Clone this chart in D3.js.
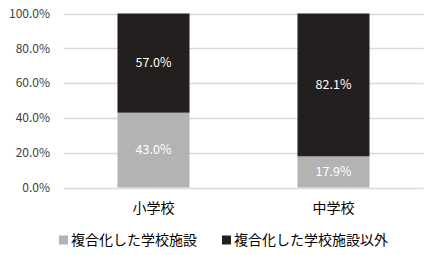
<!DOCTYPE html>
<html>
<head>
<meta charset="utf-8">
<script src="https://cdn.jsdelivr.net/npm/d3@7"></script>
<style>
  body { margin: 0; background: #fff; }
  text { font-family: "Noto Sans CJK JP", "Noto Sans", sans-serif; }
</style>
</head>
<body>
<svg width="430" height="255"></svg>
<script>
// chart data
const categories = ["小学校", "中学校"];
const combined = [43.0, 17.9];      // 複合化した学校施設
const notCombined = [57.0, 82.1];   // 複合化した学校施設以外
const seriesNames = ["複合化した学校施設", "複合化した学校施設以外"];
const yTicks = [0, 20, 40, 60, 80, 100];

const colors = ["#b3b3b3", "#231f1e"];

let svg = d3.select("svg");

let x = d3.scaleBand().domain(categories).range([63.5, 423.5]).paddingInner(0.6).paddingOuter(0.3);
let y = d3.scaleLinear().domain([0, 100]).range([187.5, 13.5]);

// gridlines
svg.append("g")
  .selectAll("line")
  .data(yTicks)
  .enter()
  .append("line")
  .attr("x1", 63.5)
  .attr("x2", 423.5)
  .attr("y1", (d) => Math.round(y(d)) + 0.5)
  .attr("y2", (d) => Math.round(y(d)) + 0.5)
  .attr("stroke", "#d9d9d9")
  .attr("stroke-width", 1.5);

// y tick labels
svg.append("g")
  .selectAll("text")
  .data(yTicks)
  .enter()
  .append("text")
  .attr("x", 50)
  .attr("y", (d) => y(d))
  .attr("dy", "0.35em")
  .attr("text-anchor", "end")
  .attr("font-size", 12)
  .attr("fill", "#404040")
  .text((d) => d.toFixed(1) + "%");

// stacked bars
const stacks = categories.map((c, i) => [
  { cat: c, y0: 0, y1: combined[i], v: combined[i], s: 0 },
  { cat: c, y0: combined[i], y1: combined[i] + notCombined[i], v: notCombined[i], s: 1 },
]).flat();

svg.append("g")
  .selectAll("rect")
  .data(stacks)
  .enter()
  .append("rect")
  .attr("x", (d) => x(d.cat))
  .attr("width", x.bandwidth())
  .attr("y", (d) => y(d.y1))
  .attr("height", (d) => y(d.y0) - y(d.y1))
  .attr("fill", (d) => colors[d.s]);

svg.append("g")
  .selectAll("text")
  .data(stacks)
  .enter()
  .append("text")
  .attr("x", (d) => x(d.cat) + x.bandwidth() / 2)
  .attr("y", (d) => y((d.y0 + d.y1) / 2))
  .attr("dy", "0.35em")
  .attr("text-anchor", "middle")
  .attr("font-size", 12.5)
  .attr("fill", "#fff")
  .text((d) => d.v.toFixed(1) + "%");

// category labels
svg.append("g")
  .selectAll("text")
  .data(categories)
  .enter()
  .append("text")
  .attr("x", (d) => x(d) + x.bandwidth() / 2)
  .attr("y", 208)
  .attr("dy", "0.35em")
  .attr("text-anchor", "middle")
  .attr("font-size", 14)
  .attr("fill", "#000")
  .text((d) => d);

// legend
const legendX = [59, 222];
let legend = svg.append("g")
  .selectAll("g")
  .data(seriesNames)
  .enter()
  .append("g")
  .attr("transform", (d, i) => `translate(${legendX[i]}, 240)`);

legend.append("rect")
  .attr("x", 0)
  .attr("y", -4.5)
  .attr("width", 9)
  .attr("height", 9)
  .attr("fill", (d, i) => colors[i]);

legend.append("text")
  .attr("x", 12)
  .attr("y", 0)
  .attr("dy", "0.35em")
  .attr("font-size", 14)
  .attr("fill", "#000")
  .text((d) => d);
</script>
</body>
</html>
